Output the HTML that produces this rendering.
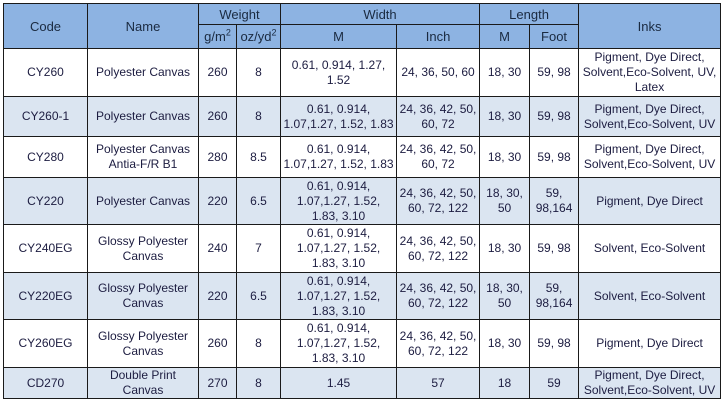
<!DOCTYPE html>
<html><head><meta charset="utf-8"><style>
body{margin:0;width:723px;height:406px;background:#fff;overflow:hidden}
table{position:absolute;left:3px;top:3px;border-collapse:collapse;table-layout:fixed;width:717px;font-family:"Liberation Sans",Arial,sans-serif;font-size:12px;color:#1c1c40;line-height:15px}
td,th{border:1px solid #1a1a1a;text-align:center;vertical-align:middle;padding:0 1px;font-weight:normal}
th{background:#8db3e2;font-size:13px;color:#1a2a40}
tr.b td{background:#dbe5f1}
sup{font-size:9px;line-height:0}
</style></head><body>
<table>
<colgroup><col style="width:84px"><col style="width:111px"><col style="width:38px"><col style="width:44px"><col style="width:116px"><col style="width:83px"><col style="width:50px"><col style="width:49px"><col style="width:142px"></colgroup>
<tr style="height:21px">
<th rowspan="2">Code</th>
<th rowspan="2">Name</th>
<th colspan="2">Weight</th>
<th colspan="2">Width</th>
<th colspan="2">Length</th>
<th rowspan="2">Inks</th></tr>
<tr style="height:24px">
<th>g/m<sup>2</sup></th>
<th>oz/yd<sup>2</sup></th>
<th>M</th>
<th>Inch</th>
<th>M</th>
<th>Foot</th></tr>
<tr style="height:48px"><td>CY260</td><td>Polyester Canvas</td><td>260</td><td>8</td><td>0.61, 0.914, 1.27,<br>1.52</td><td>24, 36, 50, 60</td><td>18, 30</td><td>59, 98</td><td>Pigment, Dye Direct,<br>Solvent,Eco-Solvent, UV,<br>Latex</td></tr>
<tr class="b" style="height:40px"><td>CY260-1</td><td>Polyester Canvas</td><td>260</td><td>8</td><td>0.61, 0.914,<br>1.07,1.27, 1.52, 1.83</td><td>24, 36, 42, 50,<br>60, 72</td><td>18, 30</td><td>59, 98</td><td>Pigment, Dye Direct,<br>Solvent,Eco-Solvent, UV</td></tr>
<tr style="height:41px"><td>CY280</td><td>Polyester Canvas<br>Antia-F/R B1</td><td>280</td><td>8.5</td><td>0.61, 0.914,<br>1.07,1.27, 1.52, 1.83</td><td>24, 36, 42, 50,<br>60, 72</td><td>18, 30</td><td>59, 98</td><td>Pigment, Dye Direct,<br>Solvent,Eco-Solvent, UV</td></tr>
<tr class="b" style="height:47px"><td>CY220</td><td>Polyester Canvas</td><td>220</td><td>6.5</td><td>0.61, 0.914,<br>1.07,1.27, 1.52,<br>1.83, 3.10</td><td>24, 36, 42, 50,<br>60, 72, 122</td><td>18, 30,<br>50</td><td>59,<br>98,164</td><td>Pigment, Dye Direct</td></tr>
<tr style="height:48px"><td>CY240EG</td><td>Glossy Polyester<br>Canvas</td><td>240</td><td>7</td><td>0.61, 0.914,<br>1.07,1.27, 1.52,<br>1.83, 3.10</td><td>24, 36, 42, 50,<br>60, 72, 122</td><td>18, 30</td><td>59, 98</td><td>Solvent, Eco-Solvent</td></tr>
<tr class="b" style="height:47px"><td>CY220EG</td><td>Glossy Polyester<br>Canvas</td><td>220</td><td>6.5</td><td>0.61, 0.914,<br>1.07,1.27, 1.52,<br>1.83, 3.10</td><td>24, 36, 42, 50,<br>60, 72, 122</td><td>18, 30,<br>50</td><td>59,<br>98,164</td><td>Solvent, Eco-Solvent</td></tr>
<tr style="height:48px"><td>CY260EG</td><td>Glossy Polyester<br>Canvas</td><td>260</td><td>8</td><td>0.61, 0.914,<br>1.07,1.27, 1.52,<br>1.83, 3.10</td><td>24, 36, 42, 50,<br>60, 72, 122</td><td>18, 30</td><td>59, 98</td><td>Pigment, Dye Direct</td></tr>
<tr class="b" style="height:31px"><td>CD270</td><td>Double Print<br>Canvas</td><td>270</td><td>8</td><td>1.45</td><td>57</td><td>18</td><td>59</td><td>Pigment, Dye Direct,<br>Solvent,Eco-Solvent, UV</td></tr>
</table>
</body></html>
